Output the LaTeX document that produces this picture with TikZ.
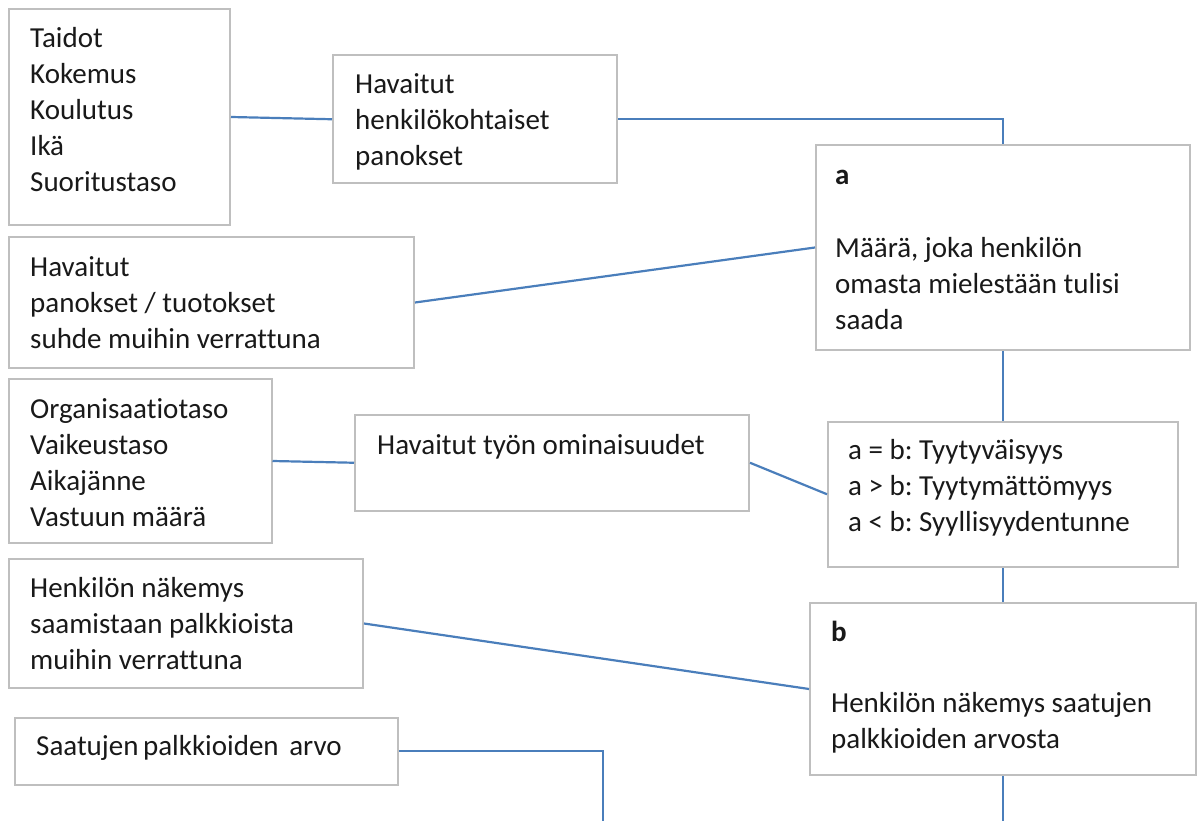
\documentclass[tikz,border=0pt]{standalone}
\usepackage{fontspec}
\setmainfont[Ligatures={NoCommon}]{Carlito}
\frenchspacing
\definecolor{boxgray}{HTML}{BFBFBF}
\definecolor{linkblue}{HTML}{4A7EBB}
\tikzset{
  box/.style={rectangle, draw=boxgray, line width=2pt, fill=white, inner sep=0pt},
  txt/.style={anchor=north west, inner sep=0pt, align=left, text=black!90, font=\fontsize{29}{36}\selectfont},
  link/.style={draw=linkblue, line width=2.2pt},
}
\newcommand{\tstrut}{\rule{0pt}{25pt}}
\begin{document}
\begin{tikzpicture}[x=1pt,y=-1pt]
\useasboundingbox (0,0) rectangle (1203,821);
% boxes
\node[box, minimum width=221pt, minimum height=216pt] (b1) at (119.5,117) {};
\node[box, minimum width=284pt, minimum height=127.5pt] (b2) at (475,119.25) {};
\node[box, minimum width=374pt, minimum height=205pt] (ba) at (1003,247.5) {};
\node[box, minimum width=405pt, minimum height=131pt] (b3) at (211.5,302.5) {};
\node[box, minimum width=262.5pt, minimum height=164pt] (b4) at (140.25,461) {};
\node[box, minimum width=394pt, minimum height=95.5pt] (b5) at (552,462.75) {};
\node[box, minimum width=350pt, minimum height=145.5pt] (bab) at (1003,494.25) {};
\node[box, minimum width=354pt, minimum height=129pt] (b6) at (186,623.5) {};
\node[box, minimum width=383pt, minimum height=67.5pt] (b7) at (206.5,751.25) {};
\node[box, minimum width=386pt, minimum height=172pt] (bb) at (1003,689) {};
% texts
\node[txt] (t1) at (30,22) {\tstrut Taidot\\Kokemus\\Koulutus\\Ikä\\Suoritustaso};
\node[txt] (t2) at (355,68) {\tstrut Havaitut\\henkilökohtaiset\\panokset};
\node[txt] (ta) at (835,159) {\tstrut\textbf{a}\\[37pt]Määrä, joka henkilön\\omasta mielestään tulisi\\saada};
\node[txt] (t3) at (30,251) {\tstrut Havaitut\\panokset / tuotokset\\suhde muihin verrattuna};
\node[txt] (t4) at (30,393) {\tstrut Organisaatiotaso\\Vaikeustaso\\Aikajänne\\Vastuun määrä};
\node[txt] (t5) at (377,429) {\tstrut Havaitut työn ominaisuudet};
\node[txt] (tab) at (848,434) {\tstrut a = b: Tyytyväisyys\\a > b: Tyytymättömyys\\a < b: Syyllisyydentunne};
\node[txt] (t6) at (30,572) {\tstrut Henkilön näkemys\\saamistaan palkkioista\\muihin verrattuna};
\node[txt] (t7) at (36,730) {\tstrut Saatujen\hspace{-2pt} palkkioiden\hspace{4pt} arvo};
\node[txt] (tb) at (831,616) {\tstrut\textbf{b}\\[35pt]Henkilön näkemys saatujen\\palkkioiden arvosta};
% free ends
\coordinate (e7) at (603,821);
\coordinate (eb) at (1003,821);
% connectors
\draw[link] (b1.east) -- (b2.west);
\draw[link] (b2.east) -| (ba.north);
\draw[link] (b3.east) -- (ba.west);
\draw[link] (b4.east) -- (b5.west);
\draw[link] (b5.east) -- (bab.west);
\draw[link] (ba.south) -- (bab.north);
\draw[link] (bab.south) -- (bb.north);
\draw[link] (b6.east) -- (bb.west);
\draw[link] (b7.east) -| (e7);
\draw[link] (bb.south) -- (eb);
\end{tikzpicture}
\end{document}
